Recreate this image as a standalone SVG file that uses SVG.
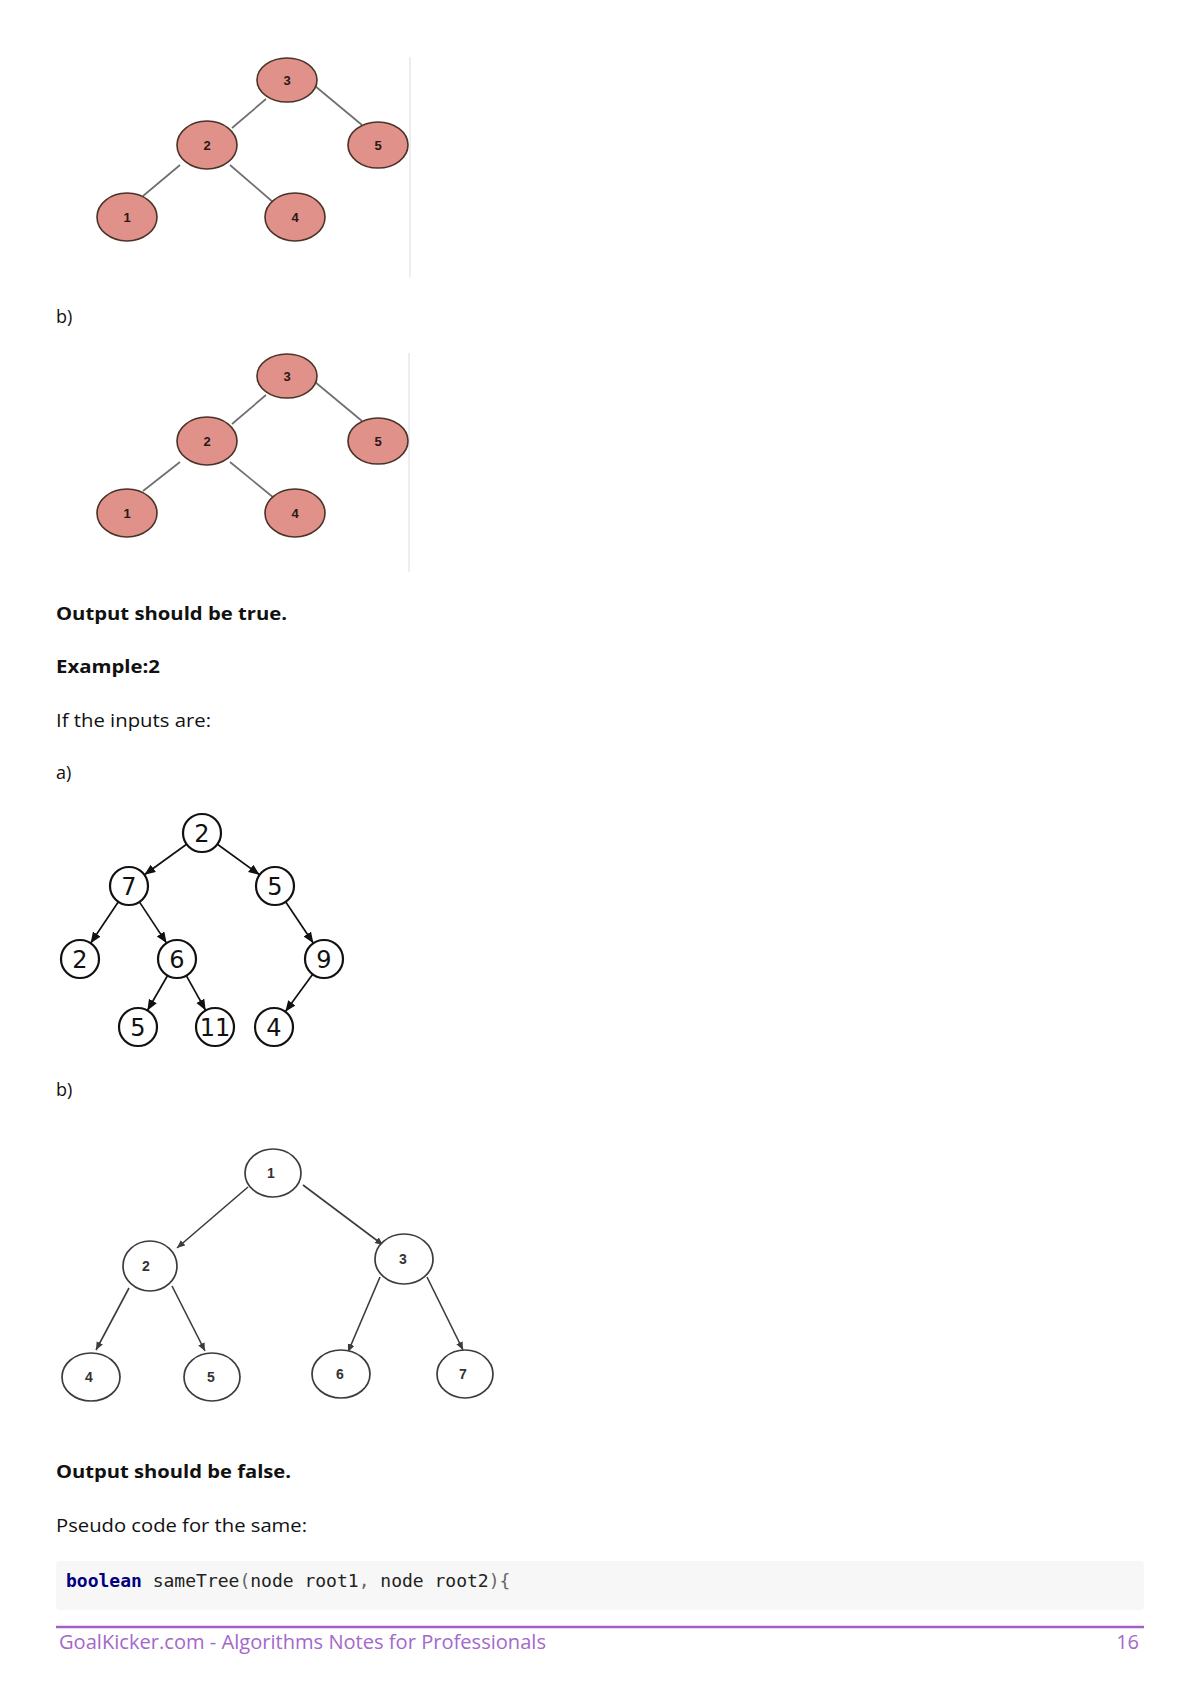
<svg xmlns="http://www.w3.org/2000/svg" width="1200" height="1696" viewBox="0 0 1200 1696">
<style>
.body{font-family:"Open Sans","Noto Sans","DejaVu Sans",sans-serif;font-size:18px;fill:#111}
.bold{font-family:"Open Sans","Noto Sans","DejaVu Sans",sans-serif;font-size:18px;font-weight:bold;fill:#111}
.pink{fill:#df918a;stroke:#4a3328;stroke-width:1.6}
.pinkt{font-family:"Liberation Sans",Arial,sans-serif;font-size:13px;font-weight:bold;fill:#2a1818;text-anchor:middle}
.pedge{stroke:#6f6f6f;stroke-width:1.7;fill:none}
.vline{stroke:#dcdcdc;stroke-width:1}
.bc{fill:#fff;stroke:#111;stroke-width:2.2}
.bt{font-family:"DejaVu Sans",sans-serif;font-size:24px;fill:#111;text-anchor:middle}
.bedge{stroke:#111;stroke-width:1.7;fill:none;marker-end:url(#ab)}
.gc{fill:#fff;stroke:#3c3c3c;stroke-width:1.7}
.gt{font-family:"Liberation Sans",Arial,sans-serif;font-size:14px;font-weight:bold;fill:#333;text-anchor:middle}
.gedge{stroke:#3c3c3c;stroke-width:1.6;fill:none;marker-end:url(#ag)}
.code{font-family:"DejaVu Sans Mono","Liberation Mono",monospace;font-size:18px;fill:#222}
.foot{font-family:"Open Sans","Noto Sans",sans-serif;font-size:20px;fill:#a468cc}
</style>
<defs>
<marker id="ab" markerUnits="userSpaceOnUse" markerWidth="12" markerHeight="10" refX="11" refY="4.5" orient="auto">
<path d="M0,0 L11,4.5 L0,9 z" fill="#111"/>
</marker>
<marker id="ag" markerUnits="userSpaceOnUse" markerWidth="10" markerHeight="8" refX="8" refY="3.5" orient="auto">
<path d="M0,0 L8,3.5 L0,7 z" fill="#3c3c3c"/>
</marker>
</defs>
<rect width="1200" height="1696" fill="#fff"/>

<!-- Tree 1 (pink) -->
<line class="vline" x1="410" y1="57" x2="410" y2="277"/>
<g id="connectors-t1">
<line class="pedge" x1="266" y1="99" x2="232" y2="128"/>
<line class="pedge" x1="315" y1="86" x2="362" y2="125"/>
<line class="pedge" x1="180" y1="165" x2="143" y2="196"/>
<line class="pedge" x1="230" y1="165" x2="274" y2="203"/>
</g>
<g id="t1-n3"><ellipse class="pink" cx="287" cy="80" rx="30" ry="22"/><text class="pinkt" x="287" y="84.5">3</text></g>
<g id="t1-n2"><ellipse class="pink" cx="207" cy="145" rx="30" ry="24"/><text class="pinkt" x="207" y="149.5">2</text></g>
<g id="t1-n5"><ellipse class="pink" cx="378" cy="145" rx="30" ry="23"/><text class="pinkt" x="378" y="149.5">5</text></g>
<g id="t1-n1"><ellipse class="pink" cx="127" cy="217" rx="30" ry="24"/><text class="pinkt" x="127" y="221.5">1</text></g>
<g id="t1-n4"><ellipse class="pink" cx="295" cy="217" rx="30" ry="24"/><text class="pinkt" x="295" y="221.5">4</text></g>

<text class="body" x="56" y="323">b)</text>

<!-- Tree 2 (pink) -->
<line class="vline" x1="409" y1="353" x2="409" y2="572"/>
<g id="connectors-t2">
<line class="pedge" x1="266" y1="395" x2="232" y2="424"/>
<line class="pedge" x1="315" y1="382" x2="362" y2="421"/>
<line class="pedge" x1="180" y1="462" x2="143" y2="491"/>
<line class="pedge" x1="230" y1="462" x2="274" y2="498"/>
</g>
<g id="t2-n3"><ellipse class="pink" cx="287" cy="376" rx="30" ry="22"/><text class="pinkt" x="287" y="380.5">3</text></g>
<g id="t2-n2"><ellipse class="pink" cx="207" cy="441" rx="30" ry="24"/><text class="pinkt" x="207" y="445.5">2</text></g>
<g id="t2-n5"><ellipse class="pink" cx="378" cy="441" rx="30" ry="23"/><text class="pinkt" x="378" y="445.5">5</text></g>
<g id="t2-n1"><ellipse class="pink" cx="127" cy="513" rx="30" ry="24"/><text class="pinkt" x="127" y="517.5">1</text></g>
<g id="t2-n4"><ellipse class="pink" cx="295" cy="513" rx="30" ry="24"/><text class="pinkt" x="295" y="517.5">4</text></g>

<text class="bold" x="56" y="620" textLength="231" lengthAdjust="spacingAndGlyphs">Output should be true.</text>
<text class="bold" x="56" y="673" textLength="104" lengthAdjust="spacingAndGlyphs">Example:2</text>
<text class="body" x="56" y="727" textLength="155" lengthAdjust="spacingAndGlyphs">If the inputs are:</text>
<text class="body" x="56" y="779">a)</text>

<!-- Tree 3 (black circles) -->
<g id="connectors-t3">
<line class="bedge" x1="186.6" y1="844.2" x2="144.4" y2="874.8"/>
<line class="bedge" x1="217.4" y1="844.2" x2="259.6" y2="874.8"/>
<line class="bedge" x1="118.4" y1="901.8" x2="90.6" y2="943.2"/>
<line class="bedge" x1="139.4" y1="901.9" x2="166.6" y2="943.1"/>
<line class="bedge" x1="285.6" y1="901.8" x2="313.4" y2="943.2"/>
<line class="bedge" x1="167.6" y1="975.5" x2="147.4" y2="1010.5"/>
<line class="bedge" x1="186.3" y1="975.6" x2="205.7" y2="1010.4"/>
<line class="bedge" x1="312.7" y1="974.3" x2="285.3" y2="1011.7"/>
</g>
<g id="t3-root2"><circle class="bc" cx="202" cy="833" r="19"/><text class="bt" x="202" y="842">2</text></g>
<g id="t3-n7"><circle class="bc" cx="129" cy="886" r="19"/><text class="bt" x="129" y="895">7</text></g>
<g id="t3-n5"><circle class="bc" cx="275" cy="886" r="19"/><text class="bt" x="275" y="895">5</text></g>
<g id="t3-n2"><circle class="bc" cx="80" cy="959" r="19"/><text class="bt" x="80" y="968">2</text></g>
<g id="t3-n6"><circle class="bc" cx="177" cy="959" r="19"/><text class="bt" x="177" y="968">6</text></g>
<g id="t3-n9"><circle class="bc" cx="324" cy="959" r="19"/><text class="bt" x="324" y="968">9</text></g>
<g id="t3-n5b"><circle class="bc" cx="138" cy="1027" r="19"/><text class="bt" x="138" y="1036">5</text></g>
<g id="t3-n11"><circle class="bc" cx="215" cy="1027" r="19"/><text class="bt" x="215" y="1036">11</text></g>
<g id="t3-n4"><circle class="bc" cx="274" cy="1027" r="19"/><text class="bt" x="274" y="1036">4</text></g>

<text class="body" x="56" y="1096">b)</text>

<!-- Tree 4 (grey ellipses) -->
<g id="connectors-t4">
<line class="gedge" x1="248" y1="1187" x2="177" y2="1248"/>
<line class="gedge" x1="303" y1="1185" x2="383" y2="1245"/>
<line class="gedge" x1="129" y1="1288" x2="96" y2="1350"/>
<line class="gedge" x1="172" y1="1286" x2="205" y2="1351"/>
<line class="gedge" x1="380" y1="1277" x2="348" y2="1352"/>
<line class="gedge" x1="427" y1="1277" x2="463" y2="1350"/>
</g>
<g id="t4-n1"><ellipse class="gc" cx="273" cy="1173" rx="28" ry="24"/><text class="gt" x="271" y="1178">1</text></g>
<g id="t4-n2"><ellipse class="gc" cx="150" cy="1266" rx="27" ry="25"/><text class="gt" x="146" y="1271">2</text></g>
<g id="t4-n3"><ellipse class="gc" cx="404" cy="1259" rx="29" ry="25"/><text class="gt" x="403" y="1264">3</text></g>
<g id="t4-n4"><ellipse class="gc" cx="91" cy="1377" rx="29" ry="24"/><text class="gt" x="89" y="1382">4</text></g>
<g id="t4-n5"><ellipse class="gc" cx="212" cy="1377" rx="28" ry="24"/><text class="gt" x="211" y="1382">5</text></g>
<g id="t4-n6"><ellipse class="gc" cx="341" cy="1374" rx="29" ry="24"/><text class="gt" x="340" y="1379">6</text></g>
<g id="t4-n7"><ellipse class="gc" cx="465" cy="1374" rx="28" ry="24"/><text class="gt" x="463" y="1379">7</text></g>

<text class="bold" x="56" y="1478" textLength="235" lengthAdjust="spacingAndGlyphs">Output should be false.</text>
<text class="body" x="56" y="1532" textLength="251" lengthAdjust="spacingAndGlyphs">Pseudo code for the same:</text>

<rect x="56" y="1561" width="1088" height="49" rx="4" fill="#f7f7f7"/>
<text class="code" x="66" y="1587"><tspan font-weight="bold" fill="#000080">boolean</tspan> sameTree<tspan fill="#666">(</tspan>node root1<tspan fill="#666">,</tspan> node root2<tspan fill="#666">){</tspan></text>

<line x1="56" y1="1627" x2="1144" y2="1627" stroke="#a062c6" stroke-width="2.5"/>
<text class="foot" x="59" y="1649" textLength="487" lengthAdjust="spacingAndGlyphs">GoalKicker.com - Algorithms Notes for Professionals</text>
<text class="foot" x="1139" y="1649" text-anchor="end">16</text>
</svg>
